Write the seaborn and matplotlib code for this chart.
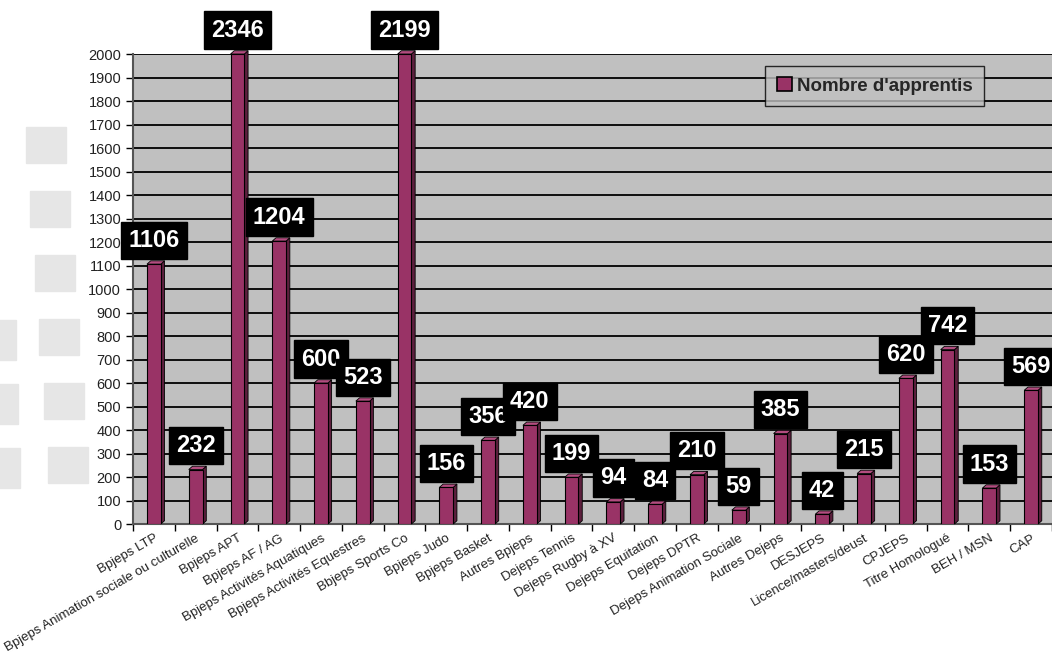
import matplotlib
matplotlib.use('Agg')
import matplotlib.pyplot as plt
import seaborn as sns
import pandas as pd
from matplotlib.patches import Polygon, Rectangle

# Données
formations = ['Bpjeps LTP', 'Bpjeps Animation sociale ou culturelle', 'Bpjeps APT',
              'Bpjeps AF / AG', 'Bpjeps Activités Aquatiques', 'Bpjeps Activités Equestres',
              'Bbjeps Sports Co', 'Bpjeps Judo', 'Bpjeps Basket', 'Autres Bpjeps',
              'Dejeps Tennis', 'Dejeps Rugby à XV', 'Dejeps Equitation', 'Dejeps DPTR',
              'Dejeps Animation Sociale', 'Autres Dejeps', 'DESJEPS',
              'Licence/masters/deust', 'CPJEPS', 'Titre Homologué', 'BEH / MSN', 'CAP']
apprentis = [1106, 232, 2346, 1204, 600, 523, 2199, 156, 356, 420, 199, 94, 84,
             210, 59, 385, 42, 215, 620, 742, 153, 569]
y_ticks = list(range(0, 2001, 100))

df = pd.DataFrame({'Formation': formations, 'Apprentis': apprentis})

sns.set_style('white')
plt.rcParams['font.family'] = ['Liberation Sans', 'DejaVu Sans']

fig = plt.figure(figsize=(10.52, 6.53), dpi=100)
ax = fig.add_axes([0.1264, 0.1975, 0.8736, 0.7198])
ax.set_facecolor('#c0c0c0')

# carrés décoratifs en fond (gauche), comme sur la diapo d'origine
W, H = 1052, 653
for i in range(6):
    x = 26 + 4.4 * i
    y = 127 + 64 * i
    fig.patches.append(Rectangle((x / W, 1 - (y + 36) / H), 40 / W, 36 / H,
                                 transform=fig.transFigure, color='#e6e6e6', zorder=0))
for i in range(3):
    y = 320 + 64 * i
    fig.patches.append(Rectangle((-0.02, 1 - (y + 40) / H), (16 + 2 * i) / W + 0.02, 40 / H,
                                 transform=fig.transFigure, color='#e6e6e6', zorder=0))

sns.barplot(data=df, x='Formation', y='Apprentis', color='#993366', width=0.33,
            edgecolor='black', linewidth=0.8, saturation=1, ax=ax, zorder=3)

ymax = 2000
ax.set_ylim(0, ymax)
ax.set_xlim(-0.5, len(formations) - 0.62)
ax.set_yticks(y_ticks)
ax.grid(axis='y', color='black', linewidth=1.3, zorder=0)
ax.set_axisbelow(True)

# effet 3D : face latérale et dessus
dx, dy = 0.09, 14
for p, v in zip(ax.patches, apprentis):
    x0 = p.get_x()
    w = p.get_width()
    h = min(v, ymax)
    p.set_height(h)
    side = Polygon([(x0 + w, 0), (x0 + w + dx, dy), (x0 + w + dx, h + dy), (x0 + w, h)],
                   closed=True, facecolor='#5c1f3d', edgecolor='black', linewidth=0.6,
                   zorder=2.9, clip_on=False)
    top = Polygon([(x0, h), (x0 + dx, h + dy), (x0 + w + dx, h + dy), (x0 + w, h)],
                  closed=True, facecolor='#b34d80', edgecolor='black', linewidth=0.6,
                  zorder=2.9, clip_on=False)
    ax.add_patch(side)
    ax.add_patch(top)
    ax.annotate(str(v), (x0 + w / 2, h), xytext=(0, 9), textcoords='offset points',
                ha='center', va='bottom', color='white', fontsize=17, fontweight='bold',
                bbox=dict(boxstyle='square,pad=0.3', facecolor='black', edgecolor='black'),
                zorder=5, annotation_clip=False)

for s in ['top', 'right']:
    ax.spines[s].set_visible(False)
ax.spines['left'].set_color('#555555')
ax.spines['bottom'].set_color('#555555')
ax.spines['left'].set_linewidth(1.5)
ax.spines['bottom'].set_linewidth(1.5)

ax.set_xticks(range(len(formations)))
ax.set_xticklabels(formations, rotation=30, ha='right', rotation_mode='anchor',
                   fontsize=9.5, color='#222222')
ax.set_xticks([i - 0.5 for i in range(len(formations) + 1)], minor=True)
ax.tick_params(axis='x', which='major', length=0, pad=6)
ax.tick_params(axis='x', which='minor', length=5, width=1, color='black', bottom=True)
ax.tick_params(axis='y', length=5, width=1, color='black', left=True, labelsize=10.5,
               labelcolor='#222222')
ax.set_xlabel('')
ax.set_ylabel('')

# légende
handle = Rectangle((0, 0), 1, 1, facecolor='#993366', edgecolor='black', linewidth=1.2)
leg = ax.legend([handle], ["Nombre d'apprentis"], loc='upper left',
                bbox_to_anchor=(0.688, 0.975), borderaxespad=0, frameon=True, fancybox=False,
                facecolor='#c0c0c0', edgecolor='black', handlelength=0.8, handleheight=0.8,
                handletextpad=0.3, borderpad=0.6, prop={'size': 13.5, 'weight': 'bold'})
leg.get_frame().set_linewidth(1.0)
leg.set_zorder(6)

fig.savefig('out.png', dpi=100)
